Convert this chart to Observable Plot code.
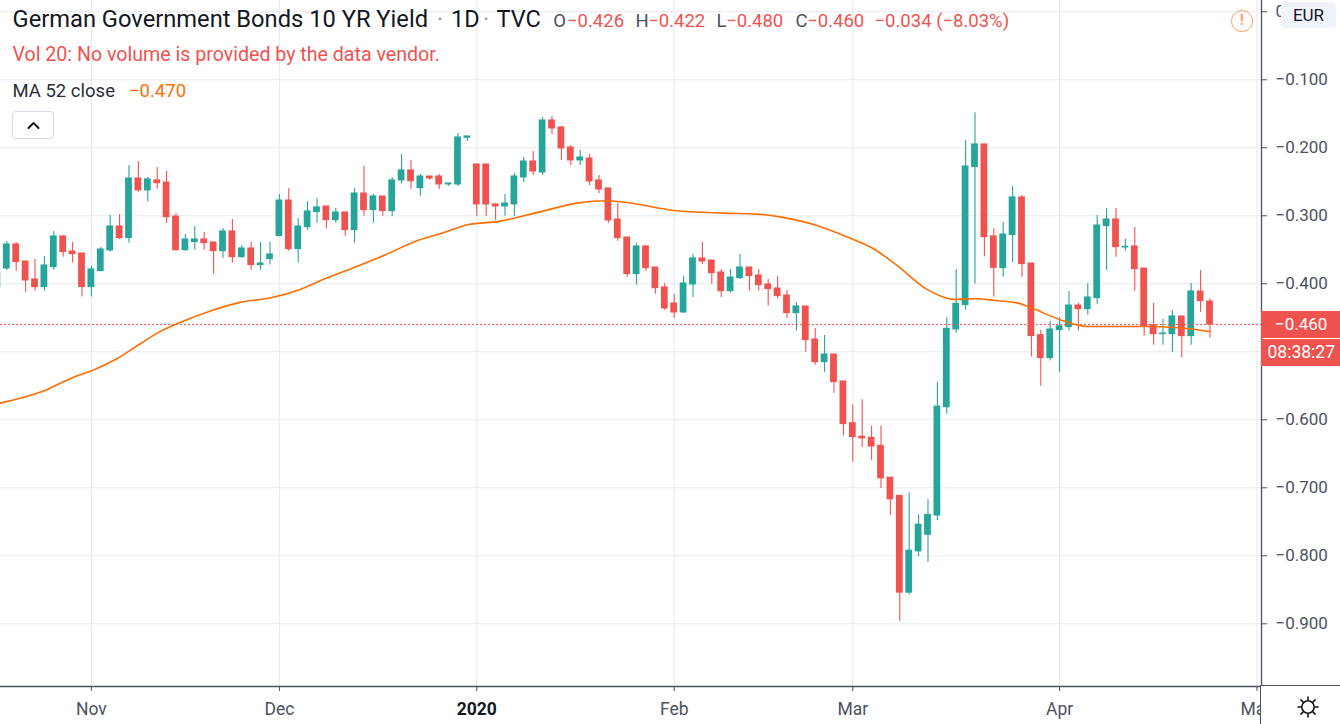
<!DOCTYPE html>
<html>
<head>
<meta charset="utf-8">
<script src="https://cdn.jsdelivr.net/npm/d3@7"></script>
<script src="https://cdn.jsdelivr.net/npm/@observablehq/plot@0.6"></script>
<style>
  html, body { margin: 0; padding: 0; background: #ffffff; }
  #wrap { position: relative; width: 1340px; height: 724px; overflow: hidden; font-family: Roboto, "Trebuchet MS", sans-serif; }
  #wrap svg.plot { position: absolute; left: 0; top: 0; }
  .ov { position: absolute; box-sizing: border-box; white-space: nowrap; }
</style>
</head>
<body>
<div id="wrap"></div>
<script>
// ---------- data ----------
const barStart = -1; // index of the first (partly hidden) daily bar; bar 9 = 1 Nov 2019
const opens = [-0.4049,-0.3775,-0.3422,-0.3672,-0.3936,-0.4049,-0.3755,-0.3304,-0.3525,-0.3554,
  -0.4049,-0.3814,-0.3510,-0.3157,-0.3328,-0.2451,-0.2627,-0.2480,-0.2510,-0.3010,
  -0.3505,-0.3387,-0.3348,-0.3392,-0.3520,-0.3230,-0.3608,-0.3480,-0.3725,-0.3637,
  -0.3299,-0.2775,-0.3490,-0.3167,-0.2946,-0.2863,-0.3064,-0.2951,-0.3211,-0.2672,
  -0.2917,-0.2716,-0.2931,-0.2480,-0.2333,-0.2593,-0.2422,-0.2422,-0.2539,-0.2539,
  -0.1853,-0.2245,-0.2245,-0.2833,-0.2863,-0.2833,-0.2436,-0.2201,-0.2363,-0.1598,
  -0.1701,-0.1995,-0.2186,-0.2157,-0.2480,-0.2598,-0.3054,-0.3319,-0.3858,-0.3451,
  -0.3760,-0.4054,-0.4289,-0.4422,-0.4010,-0.3627,-0.3657,-0.3833,-0.4108,-0.3917,
  -0.3760,-0.3877,-0.4010,-0.4069,-0.4172,-0.4431,-0.4333,-0.4819,-0.5152,-0.5039,
  -0.5436,-0.6049,-0.6249,-0.6264,-0.6383,-0.6851,-0.7119,-0.8542,-0.7935,-0.7692,
  -0.7408,-0.5816,-0.4672,-0.4313,-0.2284,-0.1950,-0.3303,-0.3770,-0.3284,-0.2730,
  -0.3701,-0.4755,-0.5093,-0.4681,-0.4637,-0.4319,-0.4373,-0.4211,-0.3152,-0.3054,
  -0.3466,-0.3451,-0.3775,-0.4608,-0.4740,-0.4740,-0.4480,-0.4770,-0.4113,-0.4260];
const highs = [-0.3800,-0.3377,-0.3397,-0.3672,-0.3642,-0.3598,-0.3230,-0.3289,-0.3392,-0.3554,
  -0.3745,-0.3466,-0.2995,-0.2980,-0.2260,-0.2201,-0.2436,-0.2289,-0.2348,-0.2966,
  -0.3275,-0.3157,-0.3245,-0.3392,-0.3186,-0.3054,-0.3436,-0.3392,-0.3392,-0.3392,
  -0.2686,-0.2598,-0.3039,-0.2789,-0.2745,-0.2863,-0.2892,-0.2951,-0.2598,-0.2270,
  -0.2686,-0.2716,-0.2436,-0.2098,-0.2186,-0.2392,-0.2422,-0.2392,-0.2525,-0.1789,
  -0.1833,-0.2245,-0.2245,-0.2819,-0.2686,-0.2377,-0.2142,-0.2054,-0.1554,-0.1539,
  -0.1686,-0.1966,-0.2039,-0.2098,-0.2407,-0.2598,-0.2819,-0.3319,-0.3407,-0.3436,
  -0.3760,-0.3995,-0.4157,-0.3892,-0.3569,-0.3392,-0.3657,-0.3789,-0.3789,-0.3569,
  -0.3760,-0.3789,-0.3936,-0.3892,-0.4098,-0.4275,-0.4333,-0.4657,-0.4760,-0.5039,
  -0.5436,-0.5784,-0.5706,-0.6090,-0.6090,-0.6851,-0.7119,-0.7075,-0.7398,-0.7174,
  -0.5448,-0.4498,-0.3791,-0.1891,-0.1483,-0.1950,-0.3189,-0.3098,-0.2569,-0.2701,
  -0.3701,-0.4686,-0.4554,-0.4495,-0.4113,-0.4289,-0.3995,-0.2995,-0.2892,-0.2892,
  -0.3348,-0.3172,-0.3775,-0.4289,-0.4525,-0.4392,-0.4480,-0.3995,-0.3804,-0.4220];
const lows = [-0.4100,-0.3804,-0.3814,-0.4123,-0.4108,-0.4108,-0.3799,-0.3608,-0.3696,-0.4196,
  -0.4196,-0.3814,-0.3534,-0.3348,-0.3402,-0.2652,-0.2799,-0.2608,-0.3108,-0.3520,
  -0.3520,-0.3505,-0.3505,-0.3858,-0.3623,-0.3696,-0.3623,-0.3799,-0.3799,-0.3725,
  -0.3299,-0.3520,-0.3696,-0.3211,-0.3108,-0.3196,-0.3108,-0.3299,-0.3402,-0.3005,
  -0.3108,-0.3005,-0.3005,-0.2534,-0.2608,-0.2711,-0.2480,-0.2613,-0.2564,-0.2569,
  -0.1907,-0.3005,-0.3005,-0.3064,-0.3005,-0.3005,-0.2510,-0.2407,-0.2407,-0.1804,
  -0.2186,-0.2260,-0.2260,-0.2554,-0.2672,-0.3113,-0.3373,-0.3902,-0.4020,-0.3814,
  -0.4152,-0.4392,-0.4510,-0.4436,-0.4201,-0.3716,-0.4010,-0.4201,-0.4137,-0.3936,
  -0.4108,-0.4108,-0.4328,-0.4225,-0.4510,-0.4696,-0.5005,-0.5196,-0.5299,-0.5608,
  -0.6240,-0.6623,-0.6408,-0.6597,-0.7010,-0.7408,-0.8965,-0.8577,-0.8010,-0.8100,
  -0.7483,-0.5920,-0.4726,-0.4388,-0.4005,-0.3607,-0.4199,-0.3902,-0.3696,-0.3902,
  -0.5078,-0.5505,-0.5137,-0.5299,-0.4696,-0.4696,-0.4461,-0.4299,-0.3799,-0.3608,
  -0.3520,-0.4108,-0.4770,-0.4902,-0.4902,-0.5005,-0.5093,-0.4902,-0.4417,-0.4800];
const closes = [-0.3843,-0.3422,-0.3681,-0.3951,-0.4049,-0.3730,-0.3304,-0.3534,-0.3564,-0.4049,
  -0.3789,-0.3495,-0.3157,-0.3328,-0.2451,-0.2627,-0.2466,-0.2520,-0.3020,-0.3505,
  -0.3348,-0.3348,-0.3402,-0.3520,-0.3230,-0.3608,-0.3480,-0.3725,-0.3701,-0.3569,
  -0.2775,-0.3490,-0.3157,-0.2936,-0.2877,-0.3064,-0.2951,-0.3211,-0.2672,-0.2917,
  -0.2716,-0.2931,-0.2480,-0.2333,-0.2490,-0.2422,-0.2451,-0.2539,-0.2525,-0.1848,
  -0.1833,-0.2833,-0.2833,-0.2863,-0.2819,-0.2422,-0.2201,-0.2348,-0.1598,-0.1716,
  -0.2010,-0.2186,-0.2142,-0.2495,-0.2613,-0.3069,-0.3328,-0.3858,-0.3451,-0.3770,
  -0.4064,-0.4363,-0.4422,-0.3995,-0.3627,-0.3672,-0.3843,-0.4108,-0.3907,-0.3760,
  -0.3887,-0.4020,-0.4078,-0.4181,-0.4431,-0.4333,-0.4828,-0.5152,-0.5039,-0.5446,
  -0.6064,-0.6255,-0.6274,-0.6393,-0.6861,-0.7169,-0.8542,-0.7925,-0.7542,-0.7398,
  -0.5806,-0.4662,-0.4294,-0.2274,-0.1950,-0.3313,-0.3766,-0.3275,-0.2730,-0.3711,
  -0.4770,-0.5093,-0.4672,-0.4627,-0.4319,-0.4373,-0.4201,-0.3142,-0.3054,-0.3461,
  -0.3456,-0.3784,-0.4623,-0.4740,-0.4730,-0.4480,-0.4770,-0.4113,-0.4255,-0.4600];

// MA 52 close at these bar positions
const maBars   = [-0.67, 3.9, 7.1, 9.1, 11.7, 14.2, 16.0, 18.5, 21.3, 24.9, 28.1, 31.2, 33.4, 36.6, 40.1, 44.0, 46.1, 49.0, 52.5,
                  56.6, 60.7, 63.8, 65.9, 71.0, 76.2, 79.8, 82.4, 86.5, 89.6, 92.2, 94.7, 97.8, 100.9, 103.0, 105.1, 107.6,
                  109.2, 112.3, 114.9, 117.4, 121.0, 124.6, 128.0];
const maValues = [-0.5755, -0.5578, -0.5373, -0.5275, -0.5103, -0.4882, -0.4725, -0.4564, -0.4417, -0.4270, -0.4206, -0.4083,
                  -0.3951, -0.3779, -0.3583, -0.3348, -0.3265, -0.3132, -0.3078, -0.2946, -0.2814, -0.2779, -0.2804, -0.2922,
                  -0.2961, -0.2975, -0.3020, -0.3157, -0.3324, -0.3485, -0.3730, -0.4074, -0.4230, -0.4221, -0.4245, -0.4284,
                  -0.4368, -0.4539, -0.4627, -0.4627, -0.4627, -0.4647, -0.4701];

const monthBars   = [9, 29, 50, 71, 90, 112, 133];
const monthLabels = ["Nov", "Dec", "2020", "Feb", "Mar", "Apr", "May"];
const priceTicks  = [0, -0.1, -0.2, -0.3, -0.4, -0.5, -0.6, -0.7, -0.8, -0.9];

const titleText   = "German Government Bonds 10 YR Yield";
const intervalTxt = "1D";
const sourceTxt   = "TVC";
const changeTxt   = "\u22120.034 (\u22128.03%)";
const volText     = "Vol 20: No volume is provided by the data vendor.";
const maLabel     = "MA 52 close";
const countdown   = "08:38:27";
const currency    = "EUR";

// ---------- tables built from the arrays ----------
const bars = opens.map((o, k) => ({i: barStart + k, o, h: highs[k], l: lows[k], c: closes[k]}));
const maPts = maBars.map((b, k) => ({b, v: maValues[k]}));
const months = monthBars.map((b, k) => ({b, label: monthLabels[k]}));
const last = bars[bars.length - 1];

const GREEN = "#26a69a", RED = "#ef5350", MA = "#ff6d00";
const GRID = "#e5eaf0", AXIS = "#4c525e", TEXT = "#4c525e", DARK = "#131722";
const fmt = d3.format(".3f");
const xDomain = [-0.67, 133.48];
const yDomain = [-0.9922, 0.0166];
const pxPerUnit = 686 / (yDomain[1] - yDomain[0]);
// the last-price badge hides the scale labels it sits on
const tickLabel = d => Math.abs(d - last.c) * pxPerUnit < 30 ? "" : fmt(d);
const candleColor = d => d.c >= d.o ? GREEN : RED;

const hdr = (str, x, base, size, fill, extra = {}) =>
  Plot.text([str], {text: d => d, frameAnchor: "top-left", dx: x, dy: base, lineAnchor: "bottom",
    textAnchor: "start", fontSize: size, fill, ...extra});

const chart = Plot.plot({
  width: 1340, height: 724,
  marginLeft: 0, marginRight: 79, marginTop: 0, marginBottom: 38,
  style: {fontFamily: "Roboto, sans-serif", background: "#ffffff", overflow: "visible"},
  x: {type: "linear", domain: xDomain, axis: null},
  y: {type: "linear", domain: yDomain, axis: null},
  color: {type: "identity"},
  marks: [
    Plot.ruleY(priceTicks, {stroke: GRID, strokeWidth: 1}),
    Plot.ruleX(monthBars, {stroke: GRID, strokeWidth: 1}),
    Plot.ruleX(bars, {x: "i", y1: "l", y2: "h", stroke: candleColor, strokeWidth: 1.1, clip: true}),
    Plot.rect(bars, {x1: d => d.i - 0.36, x2: d => d.i + 0.36, y1: "o", y2: "c", fill: candleColor,
      insetTop: -0.5, insetBottom: -0.5, clip: true}),
    Plot.ruleY([last.c], {stroke: RED, strokeWidth: 1, strokeDasharray: "2,2"}),
    Plot.line(maPts, {x: "b", y: "v", stroke: MA, strokeWidth: 1.6, curve: "monotone-x", clip: true}),
    Plot.axisY(priceTicks, {anchor: "right", tickSize: 5, tickPadding: 9, tickFormat: tickLabel, fontSize: 17,
      stroke: AXIS, fill: TEXT}),
    Plot.axisX(monthBars, {anchor: "bottom", tickSize: 5, tickFormat: () => "", stroke: AXIS}),
    Plot.text(months.filter(m => m.label !== "2020"), {x: "b", text: "label", frameAnchor: "bottom", dy: 28.5,
      lineAnchor: "bottom", fontSize: 17.5, fill: TEXT}),
    Plot.text(months.filter(m => m.label === "2020"), {x: "b", text: "label", frameAnchor: "bottom", dy: 28.5,
      lineAnchor: "bottom", fontSize: 17.5, fontWeight: "bold", fill: DARK}),
    Plot.ruleX([xDomain[1]], {stroke: AXIS, strokeWidth: 1.3}),
    Plot.ruleY([yDomain[0]], {stroke: AXIS, strokeWidth: 1.3}),
    // legend lines drawn over the pane
    hdr(titleText, 12, 26, 23.7, DARK),
    hdr("\u00b7", 436.5, 26, 23.5, "#9598a1"),
    hdr(intervalTxt, 450.5, 26, 23.5, DARK),
    hdr("\u00b7", 482.5, 26, 23.5, "#9598a1"),
    hdr(sourceTxt, 496, 26, 23.5, DARK),
    hdr("O", 552.7, 26.7, 18.5, TEXT), hdr(fmt(last.o), 566.5, 26.7, 18.5, RED),
    hdr("H", 635, 26.7, 18.5, TEXT), hdr(fmt(last.h), 647.7, 26.7, 18.5, RED),
    hdr("L", 716, 26.7, 18.5, TEXT), hdr(fmt(last.l), 725.7, 26.7, 18.5, RED),
    hdr("C", 795, 26.7, 18.5, TEXT), hdr(fmt(last.c), 806.7, 26.7, 18.5, RED),
    hdr(changeTxt, 874, 26.7, 18.5, RED),
    hdr(volText, 12, 60, 19.6, RED),
    hdr(maLabel, 12, 96, 18.5, "#2a2e39"),
    hdr(fmt(maValues[maValues.length - 1]), 128.5, 96, 18.5, MA)
  ]
});

const wrap = document.getElementById("wrap");
chart.classList.add("plot");
wrap.appendChild(chart);

function ov(style, html = "") {
  const d = document.createElement("div");
  d.className = "ov";
  Object.assign(d.style, style);
  d.innerHTML = html;
  wrap.appendChild(d);
  return d;
}

// collapse button
ov({left: "12px", top: "111px", width: "42px", height: "28px", border: "1px solid #d6d9e0", borderRadius: "4px", background: "#fff"},
  '<svg width="40" height="26" style="position:absolute;left:0;top:0"><polyline points="15.5,16 20.5,11 25.5,16" fill="none" stroke="#131722" stroke-width="2" stroke-linecap="round" stroke-linejoin="round"/></svg>');

// warning icon
ov({left: "1231px", top: "10px", width: "21.5px", height: "21.5px", border: "1.7px solid #ff9c57", borderRadius: "50%",
    color: "#ff9c57", fontSize: "15px", fontWeight: "bold", display: "flex", alignItems: "center", justifyContent: "center",
    fontFamily: "Roboto, sans-serif", lineHeight: "1"}, "!");

// currency box (covers most of the 0.000 scale label, as in the original)
ov({left: "1281px", top: "2px", width: "55px", height: "26px", background: "#f0f3fa", borderRadius: "4px",
    color: DARK, fontSize: "17px", display: "flex", alignItems: "center", justifyContent: "center",
    fontFamily: "Roboto, sans-serif"}, currency);

// last price label + countdown on the price scale
const yLast = chart.scale("y").apply(last.c);
ov({left: "1261px", top: (yLast - 13.1) + "px", width: "79px", height: "26.7px", background: RED, color: "#fff",
    fontSize: "17px", display: "flex", alignItems: "center", paddingLeft: "14px", fontFamily: "Roboto, sans-serif"}, fmt(last.c));
ov({left: "1261px", top: (yLast + 14.6) + "px", width: "79px", height: "27.3px", background: RED, color: "#fff",
    fontSize: "17.5px", display: "flex", alignItems: "center", paddingLeft: "6.5px", fontFamily: "Roboto, sans-serif"}, countdown);

// bottom-right corner with settings icon
let rays = "";
for (let k = 0; k < 8; k++) {
  const a = k * Math.PI / 4;
  rays += `<line x1="${19 + 7.2 * Math.cos(a)}" y1="${19 + 7.2 * Math.sin(a)}" x2="${19 + 10 * Math.cos(a)}" y2="${19 + 10 * Math.sin(a)}" stroke="#131722" stroke-width="1.6" stroke-linecap="round"/>`;
}
ov({left: "1260.4px", top: "685.4px", width: "80px", height: "39px", background: "#fff",
    borderLeft: "1.3px solid " + AXIS, borderTop: "1.3px solid " + AXIS},
  `<svg width="80" height="38" style="position:absolute;left:28px;top:2px"><circle cx="19" cy="19" r="6.2" fill="none" stroke="#131722" stroke-width="1.6"/>${rays}</svg>`);
</script>
</body>
</html>
